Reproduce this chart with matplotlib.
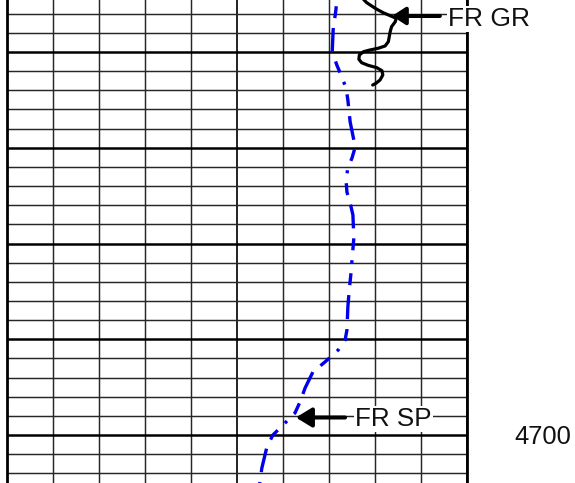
import numpy as np
import matplotlib
matplotlib.use("Agg")
import matplotlib.pyplot as plt
from matplotlib.patches import FancyArrowPatch

plt.rcParams["font.family"] = ["Liberation Sans", "DejaVu Sans"]
plt.rcParams["lines.scale_dashes"] = False

# Track scale (10 divisions) and depth window in feet
track_range = (0, 10)
depth_top, depth_bottom = 4654.57, 4705.01

# Gamma ray trace (track units, depth ft)
gr_x = [7.75, 7.82, 7.93, 8.04, 8.18, 8.33, 8.46, 8.44, 8.36, 8.33, 8.31, 8.29,
        8.22, 8.07, 7.89, 7.75, 7.66, 7.65, 7.71, 7.85, 8.04, 8.15, 8.17, 8.11,
        8.02, 7.95]
gr_depth = [4654.50, 4654.85, 4655.20, 4655.54, 4655.90, 4656.21, 4656.48,
            4656.84, 4657.36, 4657.88, 4658.40, 4658.92, 4659.37, 4659.61,
            4659.79, 4659.97, 4660.31, 4660.76, 4661.12, 4661.39, 4661.64,
            4661.95, 4662.40, 4662.92, 4663.27, 4663.45]

# Spontaneous potential trace (track units, depth ft)
sp_x = [7.17, 7.15, 7.09, 7.07, 7.17, 7.28, 7.37, 7.41, 7.46, 7.57, 7.50, 7.41,
        7.37, 7.39, 7.46, 7.52, 7.54, 7.50, 7.48, 7.44, 7.41, 7.39, 7.35, 7.20,
        6.91, 6.65, 6.48, 6.37, 6.26, 6.00, 5.78, 5.65, 5.54, 5.49]
sp_depth = [4654.50, 4655.61, 4657.70, 4660.00, 4661.36, 4662.61, 4663.76,
            4665.01, 4667.31, 4669.92, 4671.07, 4672.11, 4673.37, 4674.62,
            4675.77, 4677.02, 4679.43, 4681.72, 4682.98, 4684.86, 4686.63,
            4689.03, 4690.08, 4691.12, 4692.38, 4693.42, 4695.09, 4696.55,
            4697.70, 4698.96, 4700.00, 4701.25, 4703.45, 4705.20]

# Pick annotations: label, arrow tail, arrow tip, label anchor (left, baseline)
gr_label = "FR GR"
gr_tail, gr_tip = (9.41, 4656.24), (8.37, 4656.24)
gr_text_pos = (9.59, 4657.28)

sp_label = "FR SP"
sp_tail, sp_tip = (7.35, 4698.17), (6.28, 4698.17)
sp_text_pos = (7.57, 4699.06)

depth_label = "4700"
depth_label_value = 4700
depth_label_x = 11.04

fig = plt.figure(figsize=(5.75, 4.83), dpi=100)
ax = fig.add_axes([7 / 575, 0, 460 / 575, 1])
ax.set_xlim(*track_range)
ax.set_ylim(depth_bottom, depth_top)

# Log grid: heavy line every 10 ft, light every 2 ft; track divisions
ax.set_xticks(np.arange(0, 11, 5))
ax.set_xticks(np.arange(0, 11, 1), minor=True)
ax.set_yticks(np.arange(4660, 4701, 10))
ax.set_yticks(np.arange(4656, 4705, 2), minor=True)
ax.grid(which="minor", axis="both", color="#262626", lw=1.05)
ax.grid(which="major", axis="y", color="black", lw=1.8)
ax.grid(which="major", axis="x", color="#111111", lw=1.3)
ax.tick_params(which="both", length=0, labelbottom=False, labelleft=False)
for side in ("top", "bottom"):
    ax.spines[side].set_visible(False)
for side in ("left", "right"):
    ax.spines[side].set_linewidth(2.0)
    ax.spines[side].set_color("black")

# Curves
ax.plot(gr_x, gr_depth, color="black", lw=2.3, solid_capstyle="round",
        solid_joinstyle="round", zorder=3)
sp_line, = ax.plot(sp_x, sp_depth, color="#0000EE", lw=2.4, zorder=3)
sp_line.set_linestyle((60.5, (8.6, 7.2, 17.3, 7.2, 8.6, 7.2, 2.2, 7.2)))

# Pick arrows and labels
for tail, tip, hl, hw in ((gr_tail, gr_tip, 8.0, 5.2), (sp_tail, sp_tip, 9.5, 5.8)):
    arr = FancyArrowPatch(tail, tip,
                          arrowstyle=f"-|>,head_length={hl},head_width={hw}",
                          mutation_scale=1, lw=2.9, color="black",
                          shrinkA=0, shrinkB=0, zorder=5, clip_on=False)
    ax.add_patch(arr)

box = dict(boxstyle="square,pad=0.05", fc="white", ec="none")
ax.text(*gr_text_pos, gr_label, fontsize=19, ha="left", va="baseline",
        color="#111111", bbox=box, zorder=4)
ax.text(*sp_text_pos, sp_label, fontsize=18.7, ha="left", va="baseline",
        color="#111111", bbox=box, zorder=4)
ax.annotate(depth_label, xy=(depth_label_x, depth_label_value), xytext=(0, -6.8),
            textcoords="offset points", ha="left", va="baseline", fontsize=18.4,
            color="#111111", annotation_clip=False)

fig.savefig("out.png", dpi=100)
